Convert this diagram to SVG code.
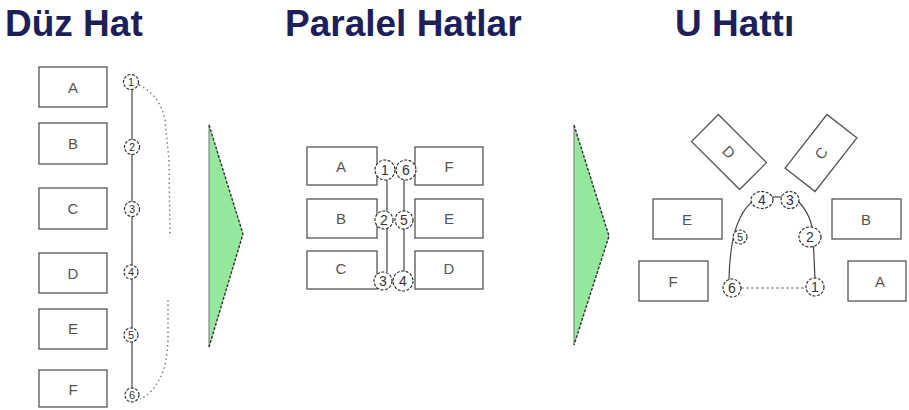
<svg xmlns="http://www.w3.org/2000/svg" width="909" height="410" viewBox="0 0 909 410">
<style>
.title{font-family:"Liberation Sans",Arial,sans-serif;font-weight:bold;font-size:37px;fill:#1c1f5a}
.box{fill:#fff;stroke:#555;stroke-width:1.3}
.lbl{font-family:"Liberation Sans",Arial,sans-serif;font-size:15px;fill:#555;text-anchor:middle;dominant-baseline:central}
.st{fill:#fff;stroke:#333;stroke-width:1.2;stroke-dasharray:3 1.5}
.num{font-family:"Liberation Sans",Arial,sans-serif;font-size:11px;fill:#333;text-anchor:middle;dominant-baseline:central}
.num2{font-family:"Liberation Sans",Arial,sans-serif;font-size:14px;fill:#333;text-anchor:middle;dominant-baseline:central}
.line{fill:none;stroke:#444;stroke-width:1.2}
.dot{fill:none;stroke:#777;stroke-width:1.4;stroke-dasharray:1.5 3}
.dash{fill:none;stroke:#777;stroke-width:1.2;stroke-dasharray:3 2}
.tri{fill:#93e89b}
.triL{stroke:#888;stroke-width:1.2;fill:none}
.triR{stroke:#333;stroke-width:1.4;fill:none;stroke-dasharray:3 1.5}
</style>
<g id="titles">
<text class="title" x="5" y="36">Düz Hat</text>
<text class="title" x="285" y="36">Paralel Hatlar</text>
<text class="title" x="675" y="36">U Hattı</text>
</g>
<g id="connectors">
<line class="line" x1="132" y1="82" x2="132" y2="395"/>
<path class="dot" d="M139,85 Q160,95 165,120 L169,160 L170,237"/>
<path class="dot" d="M168,300 L168,340 Q167,365 160,378 Q152,394 140,399"/>
<line class="line" x1="387" y1="180" x2="387" y2="272"/>
<line class="line" x1="404" y1="180" x2="404" y2="272"/>
<path class="line" d="M729,280 Q730,215 756,199"/>
<line class="line" x1="772" y1="197" x2="784" y2="197"/>
<path class="line" d="M797,200 Q812,215 813,235 L815,279"/>
<line class="dash" x1="741" y1="288" x2="806" y2="288"/>
</g>
<g id="arrow1">
<polygon class="tri" points="209,125 243,234 209,347"/>
<line class="triL" x1="209" y1="125" x2="209" y2="347"/>
<polyline class="triR" points="209,125 243,234 209,347"/>
</g>
<g id="arrow2">
<polygon class="tri" points="574,125 609,236 574,345"/>
<line class="triL" x1="574" y1="125" x2="574" y2="345"/>
<polyline class="triR" points="574,125 609,236 574,345"/>
</g>
<g id="duz-A"><rect class="box" x="39" y="67" width="68" height="40"/><text class="lbl" x="73" y="87">A</text></g>
<g id="duz-B"><rect class="box" x="39" y="123" width="68" height="41"/><text class="lbl" x="73" y="143">B</text></g>
<g id="duz-C"><rect class="box" x="39" y="188" width="68" height="41"/><text class="lbl" x="73" y="208">C</text></g>
<g id="duz-D"><rect class="box" x="39" y="253" width="68" height="40"/><text class="lbl" x="73" y="273">D</text></g>
<g id="duz-E"><rect class="box" x="39" y="309" width="68" height="40"/><text class="lbl" x="73" y="328">E</text></g>
<g id="duz-F"><rect class="box" x="39" y="370" width="68" height="37"/><text class="lbl" x="73" y="389">F</text></g>
<g id="duz-s1"><circle class="st" cx="131" cy="82" r="7.5"/><text class="num" x="131" y="82">1</text></g>
<g id="duz-s2"><circle class="st" cx="132" cy="147" r="7.5"/><text class="num" x="132" y="147">2</text></g>
<g id="duz-s3"><circle class="st" cx="132" cy="209" r="7.5"/><text class="num" x="132" y="209">3</text></g>
<g id="duz-s4"><circle class="st" cx="131" cy="272" r="7"/><text class="num" x="131" y="272">4</text></g>
<g id="duz-s5"><circle class="st" cx="131" cy="335" r="7"/><text class="num" x="131" y="335">5</text></g>
<g id="duz-s6"><circle class="st" cx="132" cy="395" r="7"/><text class="num" x="132" y="395">6</text></g>
<g id="par-A"><rect class="box" x="307" y="147" width="70" height="38"/><text class="lbl" x="341" y="166">A</text></g>
<g id="par-B"><rect class="box" x="307" y="199" width="70" height="39"/><text class="lbl" x="341" y="218">B</text></g>
<g id="par-C"><rect class="box" x="307" y="251" width="70" height="38"/><text class="lbl" x="341" y="268">C</text></g>
<g id="par-F"><rect class="box" x="415" y="147" width="68" height="38"/><text class="lbl" x="449" y="166">F</text></g>
<g id="par-E"><rect class="box" x="415" y="199" width="68" height="39"/><text class="lbl" x="449" y="218">E</text></g>
<g id="par-D"><rect class="box" x="415" y="251" width="68" height="38"/><text class="lbl" x="449" y="268">D</text></g>
<g id="par-s1"><circle class="st" cx="385" cy="170" r="10"/><text class="num2" x="385" y="170">1</text></g>
<g id="par-s6"><circle class="st" cx="406" cy="170" r="10"/><text class="num2" x="406" y="170">6</text></g>
<g id="par-s2"><circle class="st" cx="384" cy="220" r="9"/><text class="num2" x="384" y="220">2</text></g>
<g id="par-s5"><circle class="st" cx="404" cy="220" r="9"/><text class="num2" x="404" y="220">5</text></g>
<g id="par-s3"><circle class="st" cx="383" cy="281" r="9"/><text class="num2" x="383" y="281">3</text></g>
<g id="par-s4"><circle class="st" cx="403" cy="281" r="10"/><text class="num2" x="403" y="281">4</text></g>
<g id="u-D" transform="translate(729,152) rotate(45)"><rect class="box" x="-34" y="-19" width="68" height="38"/><text class="lbl" x="0" y="0">D</text></g>
<g id="u-C" transform="translate(821,153) rotate(-52)"><rect class="box" x="-34" y="-19" width="68" height="38"/><text class="lbl" x="0" y="0">C</text></g>
<g id="u-E"><rect class="box" x="653" y="199" width="69" height="40"/><text class="lbl" x="687" y="219">E</text></g>
<g id="u-B"><rect class="box" x="832" y="199" width="69" height="40"/><text class="lbl" x="866" y="219">B</text></g>
<g id="u-F"><rect class="box" x="639" y="261" width="69" height="40"/><text class="lbl" x="673" y="281">F</text></g>
<g id="u-A"><rect class="box" x="848" y="261" width="58" height="40"/><text class="lbl" x="880" y="281">A</text></g>
<g id="u-s4"><ellipse class="st" cx="762" cy="200" rx="11" ry="8.5"/><text class="num2" x="762" y="200">4</text></g>
<g id="u-s3"><ellipse class="st" cx="790" cy="200" rx="9" ry="8.5"/><text class="num2" x="790" y="200">3</text></g>
<g id="u-s5"><circle class="st" cx="740" cy="237" r="7"/><text class="num" x="740" y="237">5</text></g>
<g id="u-s2"><ellipse class="st" cx="810" cy="237" rx="11" ry="10"/><text class="num2" x="810" y="237">2</text></g>
<g id="u-s6"><circle class="st" cx="732" cy="288" r="9"/><text class="num2" x="732" y="288">6</text></g>
<g id="u-s1"><circle class="st" cx="815" cy="287" r="9"/><text class="num2" x="815" y="287">1</text></g>
</svg>
